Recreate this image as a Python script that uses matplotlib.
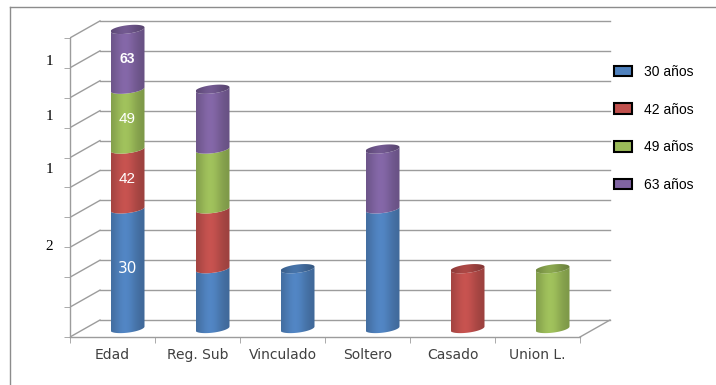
import numpy as np
import matplotlib
matplotlib.use("Agg")
import matplotlib.pyplot as plt
from matplotlib.patches import PathPatch, Patch
from matplotlib.path import Path
from matplotlib.lines import Line2D
from matplotlib.colors import to_rgb

# data
categories = ["Edad", "Reg. Sub", "Vinculado", "Soltero", "Casado", "Union L."]
series_names = ["30 años", "42 años", "49 años", "63 años"]
s30 = [2, 1, 1, 2, 0, 0]
s42 = [1, 1, 0, 0, 1, 0]
s49 = [1, 1, 0, 0, 0, 1]
s63 = [1, 1, 0, 1, 0, 0]
edad_labels = ["30", "42", "49", "63"]
ytick_pos = [4.63, 3.71, 2.83, 1.54]
ytick_labels = ["1", "1", "1", "2"]

colors = ["#4F81BD", "#C0504D", "#9BBB59", "#8064A2"]
grid_col = "#9c9c9c"

# depth of the 3d box in data units, and cylinder shape
dx, dy = 0.353, 0.284
a, b, k = 0.2, 0.07, 0.033

fig = plt.figure(figsize=(7.16, 3.85), dpi=100)
ax = fig.add_axes([70 / 716, 48 / 385, 552.5 / 716, 329 / 385])
ax.set_xlim(-0.5, 6.0)
ax.set_ylim(0, 5.5)
ax.patch.set_visible(False)

# walls
for v in np.arange(0, 5.01, 0.5):
    ax.plot([-0.5, -0.5 + dx], [v, v + dy], color=grid_col, lw=1, zorder=1)
    ax.plot([-0.5 + dx, 5.5 + dx], [v + dy, v + dy], color=grid_col, lw=1, zorder=1)
ax.plot([5.5, 5.5 + dx], [0, dy], color=grid_col, lw=1, zorder=1)


def shade(col, n=80, dark=1.0):
    u = np.linspace(0, 1, n)
    f = 0.80 + 0.24 * np.exp(-((u - 0.42) / 0.34) ** 2)
    rgb = np.array(to_rgb(col))
    img = np.clip(rgb[None, :] * f[:, None] * dark, 0, 1)
    return np.repeat(img[None, :, :], 2, axis=0)


def arc(cx, cy, t):
    return np.column_stack([cx + a * np.cos(t), cy + b * np.sin(t) + k * np.cos(t)])


def draw_piece(cx, y0, y1, col, top, z):
    cy0, cy1 = y0 + dy / 2, y1 + dy / 2
    t = np.linspace(np.pi, 2 * np.pi, 40)
    pts = np.vstack([arc(cx, cy0, t), arc(cx, cy1, t[::-1])])
    body = PathPatch(Path(np.vstack([pts, pts[:1]]), closed=True), transform=ax.transData)
    im = ax.imshow(shade(col), extent=[cx - a, cx + a, cy0 - b - k, cy1 + b + k],
                   aspect="auto", interpolation="bilinear", zorder=z)
    im.set_clip_path(body)
    if top:
        te = np.linspace(0, 2 * np.pi, 80)
        cap = PathPatch(Path(arc(cx, cy1, te), closed=True), transform=ax.transData)
        im2 = ax.imshow(shade(col, dark=0.86), extent=[cx - a, cx + a, cy1 - b - k, cy1 + b + k],
                        aspect="auto", interpolation="bilinear", zorder=z + 0.5)
        im2.set_clip_path(cap)


stack = [s30, s42, s49, s63]
for i in range(len(categories)):
    cx = i + dx / 2
    base = 0
    vals = [s[i] for s in stack]
    last = max(j for j, v in enumerate(vals) if v > 0)
    for j, v in enumerate(vals):
        if v == 0:
            continue
        draw_piece(cx, base, base + v, colors[j], j == last, 3 + j)
        if i == 0:
            if j == 0:
                fp = dict(family="DejaVu Sans", size=11)
            elif j == 3:
                fp = dict(family="Liberation Sans", size=10, weight="bold")
            else:
                fp = dict(family="Liberation Sans", size=11)
            ax.text(cx, base + v / 2 + dy / 2, edad_labels[j], color="white",
                    ha="center", va="center", zorder=10, **fp)
        base += v

ax.set_xlim(-0.5, 6.0)
ax.set_ylim(0, 5.5)

# axes
for s in ["top", "right"]:
    ax.spines[s].set_visible(False)
ax.spines["left"].set_bounds(0, 5)
ax.spines["bottom"].set_bounds(-0.5, 5.5)
for s in ["left", "bottom"]:
    ax.spines[s].set_color(grid_col)
    ax.spines[s].set_linewidth(1)

ax.set_xticks(range(len(categories)))
ax.set_xticklabels(categories, family="DejaVu Sans", fontsize=10, color="#404040")
ax.set_xticks(np.arange(-0.5, 5.6, 1), minor=True)
ax.tick_params(axis="x", which="major", length=0, pad=8)
ax.tick_params(axis="x", which="minor", length=4, color=grid_col, direction="out")

ax.set_yticks(ytick_pos)
ax.set_yticklabels(ytick_labels, family="Liberation Serif", fontsize=11, color="black")
ax.set_yticks(np.arange(0, 5.01, 0.5), minor=True)
ax.tick_params(axis="y", which="major", length=0, pad=12)
ax.tick_params(axis="y", which="minor", length=4, color=grid_col, direction="out")

# legend
handles = [Patch(facecolor=c, edgecolor="black", linewidth=1.5) for c in colors]
fig.legend(handles, series_names, loc="upper left", bbox_to_anchor=(614 / 716, 1 - 65 / 385),
           frameon=False, prop=dict(family="Liberation Sans", size=10),
           handlelength=1.3, handleheight=0.8, handletextpad=0.86, labelspacing=1.7,
           borderpad=0, borderaxespad=0)

# outer chart border
fig.add_artist(Line2D([10 / 716, 10 / 716], [0, 1 - 7 / 385], color="#8c8c8c", lw=1))
fig.add_artist(Line2D([10 / 716, 1], [1 - 7 / 385, 1 - 7 / 385], color="#8c8c8c", lw=1))

fig.savefig("out.png", dpi=100)
